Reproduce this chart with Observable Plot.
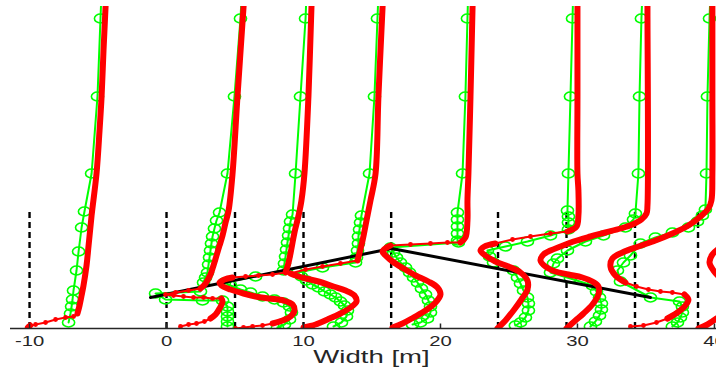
<!DOCTYPE html>
<html><head><meta charset="utf-8">
<script src="https://cdn.jsdelivr.net/npm/d3@7"></script>
<script src="https://cdn.jsdelivr.net/npm/@observablehq/plot@0.6"></script>
<style>html,body{margin:0;padding:0;background:#fff;} svg{display:block;}</style>
</head><body><div id="chart"></div>
<script>
// ---- data (x: width [m], h: height) ----
const stations = [-10, 0, 5, 10, 16.4, 24.2, 29.2, 34.2, 38.8];
const dashHeight = 1.16;
const xTicks = [-10, 0, 10, 20, 30, 40];
const interfaceX = [-1.17, 16.42, 35.33];
const interfaceH = [0.31, 0.80, 0.31];

// measured profiles (green circles), one per station
const measured = [
  [[-7.15,0.06],[-7.01,0.15],[-6.93,0.22],[-6.86,0.29],[-6.79,0.38],[-6.57,0.58],[-6.42,0.77],[-6.20,1.01],[-5.99,1.17],[-5.47,1.55],[-5.04,2.32],[-4.82,3.10],[-4.60,3.87]],
  [[4.45,0.02],[4.45,0.07],[4.45,0.12],[4.45,0.17],[4.45,0.22],[4.09,0.28],[2.63,0.28],[-0.07,0.29],[-0.80,0.35],[2.48,0.37],[2.70,0.46],[2.85,0.51],[2.99,0.56],[3.07,0.64],[3.14,0.71],[3.21,0.78],[3.28,0.85],[3.36,0.92],[3.50,1.00],[3.65,1.08],[3.87,1.16],[4.45,1.55],[4.96,2.32],[5.40,3.10],[5.69,3.87]],
  [[8.10,0.01],[8.61,0.04],[8.98,0.09],[9.12,0.16],[8.98,0.22],[8.54,0.26],[7.88,0.29],[7.01,0.32],[6.13,0.36],[5.40,0.39],[4.67,0.43],[4.23,0.46],[6.50,0.52],[8.54,0.58],[8.61,0.65],[8.69,0.72],[8.76,0.79],[8.83,0.86],[8.91,0.93],[8.98,1.00],[9.05,1.07],[9.20,1.14],[9.42,1.55],[9.78,2.32],[10.15,3.10],[10.36,3.87]],
  [[12.19,0.02],[12.77,0.06],[13.14,0.12],[13.21,0.18],[12.99,0.23],[12.70,0.27],[12.34,0.31],[11.97,0.34],[11.53,0.37],[11.09,0.41],[10.66,0.44],[10.22,0.48],[9.85,0.52],[9.56,0.56],[11.39,0.61],[13.80,0.66],[13.87,0.71],[13.94,0.78],[14.01,0.85],[14.01,0.92],[14.09,0.99],[14.16,1.06],[14.23,1.13],[14.82,1.55],[15.18,2.32],[15.40,3.10],[15.62,3.87]],
  [[17.96,0.04],[18.54,0.06],[19.05,0.10],[19.27,0.16],[19.27,0.22],[19.12,0.28],[18.91,0.34],[18.61,0.40],[18.32,0.46],[18.03,0.51],[17.74,0.56],[17.45,0.61],[17.08,0.66],[16.79,0.71],[16.57,0.76],[16.35,0.81],[21.31,0.86],[21.24,0.88],[21.24,0.95],[21.24,1.02],[21.24,1.09],[21.24,1.16],[21.61,1.55],[21.82,2.32],[21.97,3.10],[22.12,3.87]],
  [[25.47,0.03],[25.84,0.06],[26.20,0.11],[26.42,0.18],[26.42,0.25],[26.35,0.31],[26.06,0.38],[25.84,0.45],[25.62,0.51],[25.33,0.58],[23.87,0.66],[23.58,0.72],[23.43,0.78],[24.74,0.82],[26.35,0.87],[28.03,0.93],[29.34,0.99],[29.34,1.06],[29.34,1.12],[29.27,1.18],[29.34,1.55],[29.49,2.32],[29.64,3.10],[29.78,3.87]],
  [[30.95,0.02],[31.31,0.07],[31.61,0.13],[31.75,0.19],[31.75,0.25],[31.61,0.31],[31.39,0.37],[31.09,0.43],[29.49,0.50],[28.03,0.56],[28.25,0.65],[28.54,0.70],[29.27,0.78],[30.58,0.87],[31.90,0.93],[33.50,1.01],[34.09,1.09],[34.23,1.15],[34.45,1.55],[34.53,2.32],[34.67,3.10],[34.89,3.87]],
  [[36.93,0.02],[37.30,0.06],[37.52,0.11],[37.66,0.16],[37.66,0.22],[37.45,0.27],[35.33,0.31],[33.14,0.47],[32.92,0.58],[33.36,0.66],[33.87,0.73],[34.60,0.85],[35.69,0.91],[36.93,0.96],[38.10,1.01],[38.76,1.07],[39.12,1.13],[39.34,1.19],[39.42,1.55],[39.49,2.32],[39.64,3.10],[39.85,3.87]],
  []
];

// model profiles (red): densely sampled runs
const modelDense = [
  [[[-10.12,0.01],[-9.95,0.03]],
   [[-6.50,0.15],[-6.35,0.23],[-6.20,0.33],[-6.06,0.43],[-5.84,0.63],[-5.69,0.83],[-5.47,1.13],[-5.11,1.55],[-4.89,1.98],[-4.74,2.32],[-4.60,2.78],[-4.45,3.22],[-4.31,3.68]]],
  [[[3.21,0.10],[3.58,0.14],[3.87,0.20],[4.09,0.27],[4.01,0.30]],
   [[2.48,0.40],[2.85,0.45],[3.21,0.54],[3.43,0.63],[3.65,0.73],[3.87,0.83],[4.09,0.93],[4.31,1.06],[4.53,1.18],[4.82,1.55],[5.18,2.32],[5.62,3.21],[5.84,3.68]]],
  [[[7.74,0.05],[8.47,0.08],[9.05,0.12],[9.34,0.18],[9.20,0.24],[8.54,0.28],[7.45,0.30],[6.50,0.32],[5.62,0.35],[4.67,0.39],[4.01,0.43],[3.87,0.46],[4.23,0.49],[4.82,0.51]],
   [[8.69,0.56],[8.91,0.66],[9.12,0.80],[9.34,0.96],[9.64,1.13],[9.85,1.28],[10.07,1.55],[10.36,2.32],[10.58,3.21],[10.73,3.68]]],
  [[[10.0,0.01],[10.88,0.04],[11.75,0.09],[12.70,0.15],[13.43,0.21],[13.87,0.27],[13.72,0.33],[13.07,0.38],[12.19,0.42],[11.09,0.47],[10.15,0.50],[9.42,0.53],[9.05,0.55]],
   [[13.94,0.68],[14.31,0.88],[14.60,1.08],[14.89,1.28],[15.26,1.55],[15.47,2.32],[15.77,3.21],[15.91,3.68]]],
  [[[16.50,0.01],[17.23,0.05],[18.03,0.11],[18.91,0.18],[19.64,0.26],[20.0,0.34],[19.78,0.41],[19.12,0.47],[18.18,0.53],[17.30,0.60],[16.50,0.67],[15.99,0.73],[15.77,0.77],[16.06,0.81],[16.35,0.83]],
   [[21.46,0.86],[21.82,0.91],[21.97,1.08],[21.97,1.28],[22.04,1.55],[22.19,2.32],[22.34,3.21],[22.41,3.68]]],
  [[[24.16,0.0],[24.74,0.08],[25.33,0.18],[25.91,0.29],[26.35,0.39],[26.35,0.48],[25.84,0.56],[24.96,0.62],[24.01,0.67],[23.28,0.73],[22.92,0.78],[23.21,0.82],[24.01,0.85]],
   [[29.27,0.97],[29.93,1.02],[30.07,1.13],[30.07,1.38],[30.0,1.55],[30.0,2.32],[30.0,3.21],[30.0,3.68]]],
  [[[29.20,0.0],[29.85,0.08],[30.44,0.15],[31.09,0.24],[31.53,0.34],[31.53,0.42],[31.09,0.47],[30.36,0.51],[29.34,0.54],[28.39,0.57],[27.66,0.62],[27.30,0.68],[27.52,0.74],[28.03,0.78],[28.76,0.82],[29.71,0.87],[30.95,0.92],[32.04,0.96],[33.14,1.00],[34.01,1.04],[34.67,1.09],[35.04,1.15],[35.11,1.23],[35.11,3.21],[35.11,3.68]]],
  [[[36.57,0.10],[37.30,0.16],[37.88,0.23],[38.10,0.29],[37.81,0.34]],
   [[33.50,0.46],[32.77,0.53],[32.41,0.62],[32.55,0.70],[33.28,0.76],[34.45,0.82],[35.69,0.88],[36.93,0.95],[38.10,1.03],[38.98,1.12],[39.56,1.20],[39.78,1.28],[39.85,1.55],[39.85,2.32],[39.85,3.21],[39.85,3.68]]],
  [[[38.83,0.0],[39.49,0.04],[40.15,0.10],[40.88,0.18],[41.31,0.28],[41.17,0.38],[40.58,0.48],[39.93,0.58],[39.64,0.66],[39.85,0.74],[40.44,0.81],[41.53,0.88]]]
];

// model profiles (red): sparsely sampled runs (individual points visible)
const modelSparse = [
  [[[-10.07,0.02],[-9.56,0.04],[-8.83,0.06],[-8.10,0.09],[-7.37,0.11],[-6.79,0.12],[-6.50,0.15]]],
  [[[1.02,0.02],[1.61,0.04],[2.19,0.05],[2.77,0.07],[3.21,0.10]],
   [[4.01,0.30],[3.36,0.30],[2.70,0.31],[1.97,0.31],[1.24,0.32],[0.51,0.33],[-0.07,0.34],[0.66,0.36],[1.61,0.38],[2.48,0.40]]],
  [[[5.04,0.0],[5.62,0.01],[6.28,0.02],[7.01,0.03],[7.74,0.05]],
   [[4.82,0.51],[5.77,0.52],[6.72,0.53],[7.74,0.54],[8.69,0.56]]],
  [[[9.05,0.55],[10.15,0.59],[11.39,0.62],[12.70,0.65],[13.94,0.68]]],
  [[[16.35,0.83],[17.81,0.84],[19.27,0.85],[20.51,0.86],[21.46,0.86]]],
  [[[24.01,0.85],[25.26,0.89],[26.57,0.92],[28.03,0.95],[29.27,0.97]]],
  [],
  [[[33.87,0.02],[34.82,0.03],[35.77,0.06],[36.57,0.10]],
   [[37.81,0.34],[36.93,0.36],[36.06,0.37],[35.18,0.39],[34.31,0.42],[33.50,0.46]]],
  []
];

const xLabel = "Width [m]";

// ---- build tables ----
const measuredRows = measured.flatMap((pts, i) => pts.map(([x, h]) => ({x, h, key: "m" + i})));
const runRows = (arr, tag) => arr.flatMap((runs, i) => runs.flatMap((run, j) => run.map(([x, h]) => ({x, h, key: `${tag}${i}-${j}`}))));
const denseRows = runRows(modelDense, "d");
const sparseRows = runRows(modelSparse, "s");
const interfaceRows = interfaceX.map((x, i) => ({x, h: interfaceH[i]}));

const GREEN = "#00ff00", RED = "#ff0000", INK = "#262626";

const ellipse = {
  draw(ctx, size) {
    const r = Math.sqrt(size / Math.PI), rx = r * 1.35, ry = r, k = 0.5523;
    ctx.moveTo(rx, 0);
    ctx.bezierCurveTo(rx, k * ry, k * rx, ry, 0, ry);
    ctx.bezierCurveTo(-k * rx, ry, -rx, k * ry, -rx, 0);
    ctx.bezierCurveTo(-rx, -k * ry, -k * rx, -ry, 0, -ry);
    ctx.bezierCurveTo(k * rx, -ry, rx, -k * ry, rx, 0);
    ctx.closePath();
  }
};
const tickUp = {
  draw(ctx, size) {
    const r = Math.sqrt(size / Math.PI);
    ctx.moveTo(0, 0);
    ctx.lineTo(0, -r);
  }
};

const chart = Plot.plot({
  width: 716,
  height: 370,
  marginLeft: 10,
  marginRight: 0,
  marginTop: 6,
  marginBottom: 42,
  x: {domain: [-11.39, 40.15], axis: null},
  y: {domain: [0, 3.22], axis: null},
  style: {background: "#fff", fontFamily: "'Liberation Sans', Arial, sans-serif"},
  marks: [
    Plot.ruleX(stations, {x: d => d, y1: () => 0, y2: () => dashHeight, stroke: "#000", strokeWidth: 2.4, strokeDasharray: "6,4"}),
    Plot.line(measuredRows, {x: "x", y: "h", z: "key", stroke: GREEN, strokeWidth: 2, clip: true}),
    Plot.dot(measuredRows, {x: "x", y: "h", symbol: ellipse, r: 4.5, stroke: GREEN, strokeWidth: 1.6, fill: "none", clip: true}),
    Plot.line(interfaceRows, {x: "x", y: "h", stroke: "#000", strokeWidth: 3}),
    Plot.line(sparseRows, {x: "x", y: "h", z: "key", stroke: RED, strokeWidth: 2, clip: true}),
    Plot.dot(sparseRows, {x: "x", y: "h", r: 2.4, fill: RED, stroke: "none", clip: true}),
    Plot.line(denseRows, {x: "x", y: "h", z: "key", stroke: RED, strokeWidth: 6, curve: "catmull-rom", strokeLinecap: "round", strokeLinejoin: "round", clip: true}),
    Plot.ruleY([0], {stroke: INK, strokeWidth: 1.5}),
    Plot.dot(xTicks, {x: d => d, y: () => 0, symbol: tickUp, r: 5, stroke: INK, strokeWidth: 1.5, fill: "none"}),
    Plot.text(xTicks, {x: d => d, frameAnchor: "bottom", dy: 17, text: d => String(d), fontSize: 14, fill: INK}),
    Plot.text([xLabel], {text: d => d, frameAnchor: "bottom", dx: 8, dy: 34, lineAnchor: "bottom", fontSize: 19, fill: INK})
  ]
});

// the original figure is stretched horizontally: widen the glyphs the same way
chart.querySelectorAll("text").forEach(t => {
  const x = +(t.getAttribute("x") || 0), y = +(t.getAttribute("y") || 0);
  const tr = t.getAttribute("transform") || "";
  t.removeAttribute("x");
  t.removeAttribute("y");
  t.setAttribute("transform", `${tr} translate(${x},${y}) scale(1.45,1)`);
});

document.getElementById("chart").appendChild(chart);
</script>
</body></html>
